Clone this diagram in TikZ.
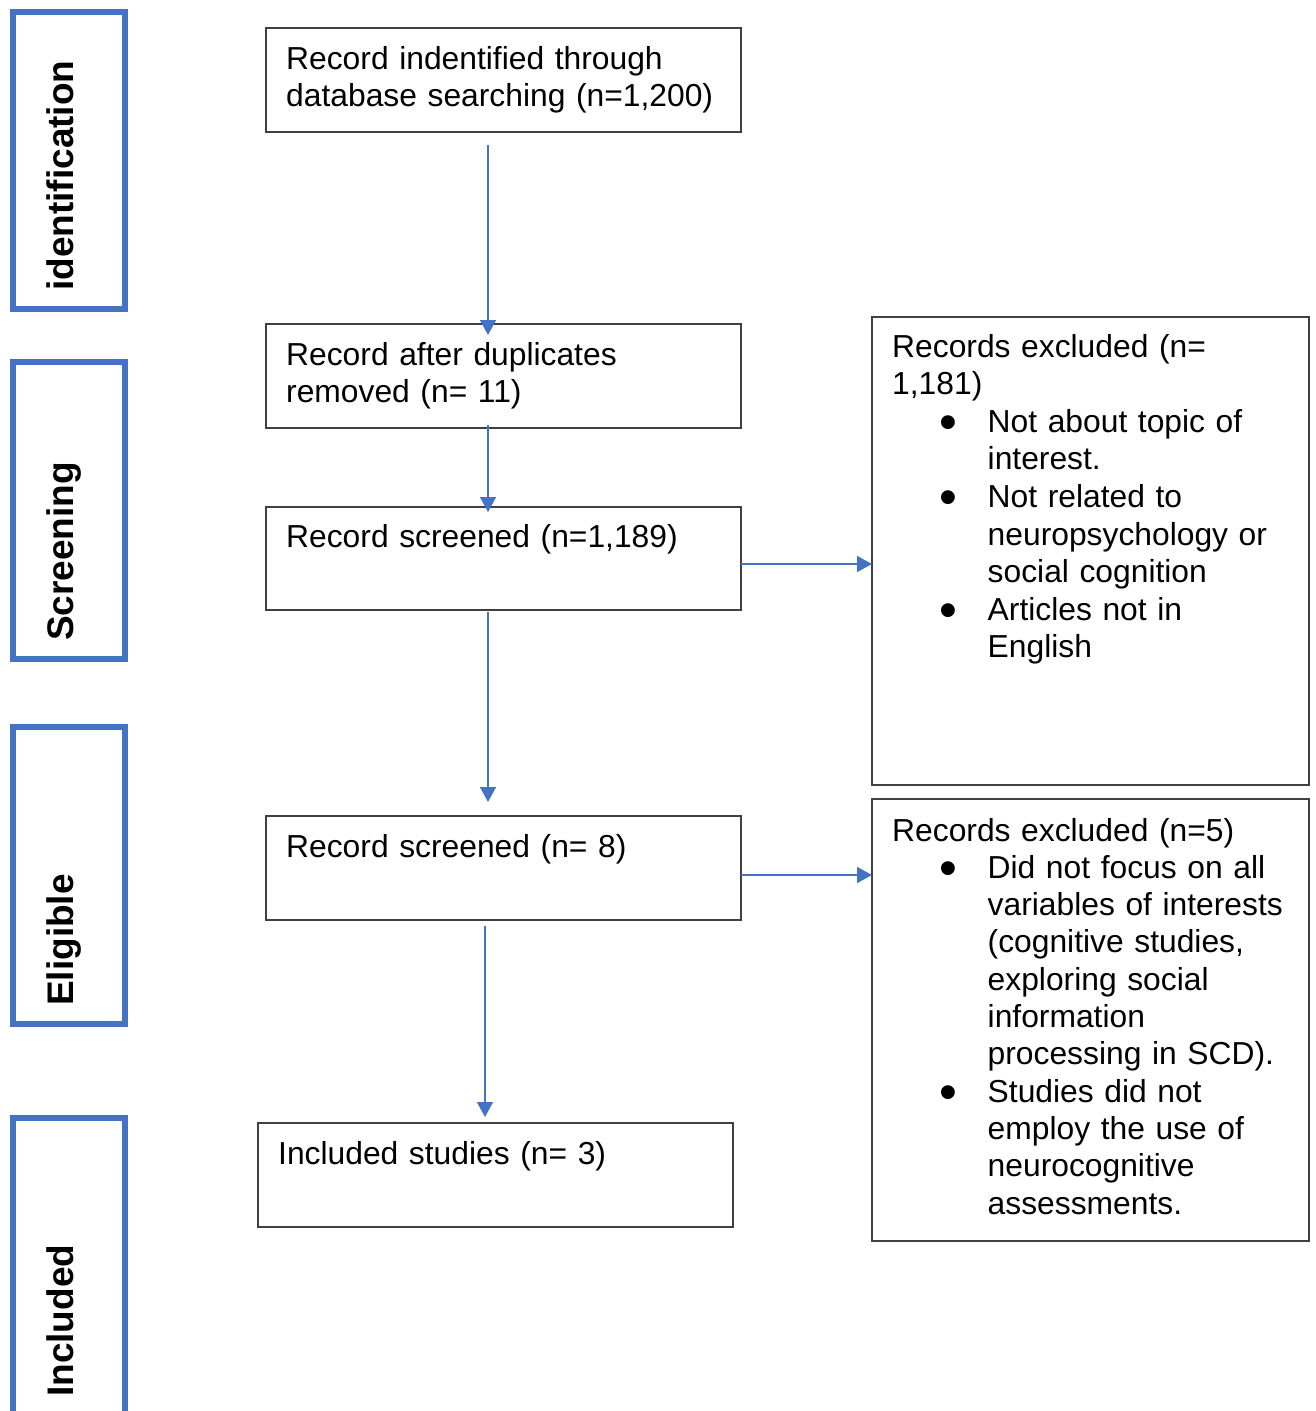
\documentclass[tikz,border=0pt]{standalone}
\usepackage{fontspec}
\setmainfont{Liberation Sans}
\usepackage{graphicx}
\usetikzlibrary{arrows.meta,calc}
\definecolor{barblue}{HTML}{4472C4}
\definecolor{boxgray}{HTML}{404040}
\newcommand\bul{\makebox[48.5pt][l]{\smash{\raisebox{-7pt}{\scalebox{1.6}{•}}}}}
\newcommand\ind{\hspace*{47pt}}
\newcommand\cont{\hspace*{95.5pt}}
\begin{document}
\begin{tikzpicture}[x=1pt,y=-1pt,
  stagebar/.style={draw=barblue, line width=6pt, minimum width=112pt, minimum height=297pt, anchor=north west, inner sep=0pt, outer sep=0pt},
  stagelabel/.style={rotate=90, anchor=base west, inner sep=0pt, font=\fontsize{37}{40}\selectfont\bfseries},
  box/.style={draw=boxgray, line width=1.5pt, anchor=north west, inner sep=0pt, outer sep=0pt},
  txt/.style={anchor=base west, inner sep=0pt, text width=470pt, align=left, font=\fontsize{31.8}{37}\selectfont},
  arr/.style={draw=barblue, line width=1.5pt, -{Triangle[length=15pt,width=16pt]}}
]
\useasboundingbox (0,0) rectangle (1316,1411);
\clip (0,0) rectangle (1316,1411);

% stage bars
\node[stagebar] (s1) at (13,12) {};
\node[stagebar] (s2) at (13,362) {};
\node[stagebar] (s3) at (13,727) {};
\node[stagebar] (s4) at (13,1118) {};
\node[stagelabel] (l1) at ([xshift=60pt,yshift=18pt]s1.south west) {identification};
\node[stagelabel] (l2) at ([xshift=60pt,yshift=18pt]s2.south west) {Screening};
\node[stagelabel] (l3) at ([xshift=60pt,yshift=18pt]s3.south west) {Eligible};
\node[stagelabel] (l4) at ([xshift=60pt,yshift=18pt]s4.south west) {Included};

% boxes
\node[box, minimum width=475pt, minimum height=104pt] (b1) at (266,28) {};
\node[box, minimum width=475pt, minimum height=104pt] (b2) at (266,324) {};
\node[box, minimum width=475pt, minimum height=103pt] (b3) at (266,507) {};
\node[box, minimum width=475pt, minimum height=104pt] (b4) at (266,816) {};
\node[box, minimum width=475pt, minimum height=104pt] (b5) at (258,1123) {};
\node[box, minimum width=437pt, minimum height=468pt] (r1) at (872,317) {};
\node[box, minimum width=437pt, minimum height=442pt] (r2) at (872,799) {};

% texts
\node[txt] (t1) at ([xshift=20pt,yshift=-41pt]b1.north west) {Record indentified through\\database searching (n=1,200)};
\node[txt] (t2) at ([xshift=20pt,yshift=-41pt]b2.north west) {Record after duplicates\\removed (n= 11)};
\node[txt] (t3) at ([xshift=20pt,yshift=-40pt]b3.north west) {Record screened (n=1,189)};
\node[txt] (t4) at ([xshift=20pt,yshift=-41pt]b4.north west) {Record screened (n= 8)};
\node[txt] (t5) at ([xshift=20pt,yshift=-41pt]b5.north west) {Included studies (n= 3)};
\node[txt, font=\fontsize{31.8}{37.6}\selectfont] (tr1) at ([xshift=20pt,yshift=-40pt]r1.north west) {Records excluded (n=\\
1,181)\\
\ind\bul Not about topic of\\
\cont interest.\\
\ind\bul Not related to\\
\cont neuropsychology or\\
\cont social cognition\\
\ind\bul Articles not in\\
\cont English};
\node[txt, font=\fontsize{31.8}{37.3}\selectfont] (tr2) at ([xshift=20pt,yshift=-42pt]r2.north west) {Records excluded (n=5)\\
\ind\bul Did not focus on all\\
\cont variables of interests\\
\cont (cognitive studies,\\
\cont exploring social\\
\cont information\\
\cont processing in SCD).\\
\ind\bul Studies did not\\
\cont employ the use of\\
\cont neurocognitive\\
\cont assessments.};

% arrows
\draw[arr, shorten <=13pt, shorten >=-11pt] ([xshift=-15.5pt]b1.south) -- ([xshift=-15.5pt]b2.north);
\draw[arr, shorten <=-3pt, shorten >=-5pt] ([xshift=-15.5pt]b2.south) -- ([xshift=-15.5pt]b3.north);
\draw[arr, shorten <=2pt, shorten >=14pt] ([xshift=-15.5pt]b3.south) -- ([xshift=-15.5pt]b4.north);
\draw[arr, shorten <=6pt, shorten >=6pt] ([xshift=-18.5pt]b4.south) -- ([xshift=-18.5pt]b4.south |- b5.north);
\draw[arr] ([yshift=-5.5pt]b3.east) -- ([yshift=-5.5pt]b3.east -| r1.west);
\draw[arr] ([yshift=-7pt]b4.east) -- ([yshift=-7pt]b4.east -| r2.west);
\end{tikzpicture}
\end{document}
